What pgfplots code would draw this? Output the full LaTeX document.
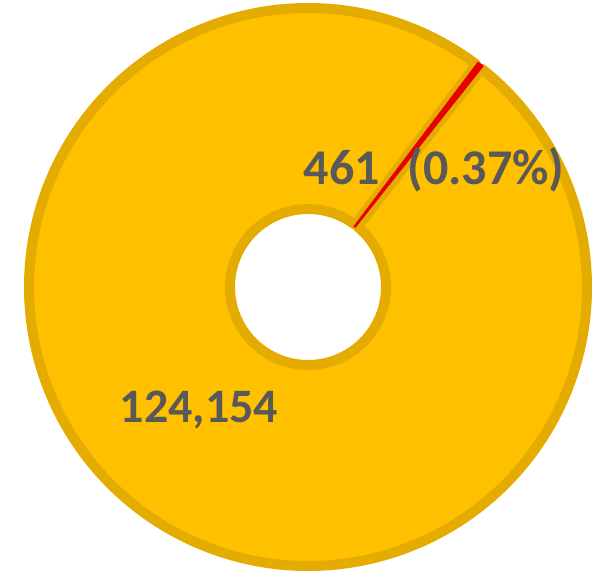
\documentclass[border=0pt]{standalone}
\usepackage{pgfplots}
\usepackage{pgfplotstable}
\usepackage{fontspec}
\setmainfont{Carlito}
\pgfplotsset{compat=1.18}
\definecolor{gold}{HTML}{FFC000}
\definecolor{golddark}{RGB}{228,172,0}
\definecolor{redslice}{RGB}{232,0,0}
\definecolor{lbl}{HTML}{595959}
\pgfplotstableread{
label value
A 461
B 124154
}\donut
\pgfplotstablegetelem{0}{value}\of\donut \let\va\pgfplotsretval
\pgfplotstablegetelem{1}{value}\of\donut \let\vb\pgfplotsretval
\pgfkeys{/pgf/fpu=true,/pgf/fpu/output format=fixed}
\pgfmathsetmacro{\spanA}{360*\va/(\va+\vb)}
\pgfkeys{/pgf/fpu=false}
\pgfmathsetmacro{\startA}{52.91}
\pgfmathsetmacro{\endA}{\startA-\spanA}
\pgfmathsetmacro{\endB}{\endA+360}
\begin{document}
\begin{tikzpicture}
\begin{axis}[
  width=605pt, height=572pt, scale only axis, hide axis,
  xmin=-308, xmax=297, ymin=-285, ymax=287,
  clip=false,
]
\addplot[draw=none] coordinates {(-308,-285) (297,287)};
% large slice
\addplot[fill=gold, draw=golddark, line width=10pt, line join=round,
  domain=0:2, samples=721]
  ({ifthenelse(x<=1, 279*cos(\startA+(\endB-\startA)*x), 78*cos(\endB-(\endB-\startA)*(x-1)))},
   {ifthenelse(x<=1, 279*sin(\startA+(\endB-\startA)*x), 78*sin(\endB-(\endB-\startA)*(x-1)))}) -- cycle;
% small slice
\addplot[fill=redslice, draw=redslice, line width=0.8pt, line join=round,
  domain=0:2, samples=41]
  ({ifthenelse(x<=1, 282*cos(\endA+(\startA-\endA)*x), 76*cos(\startA-(\startA-\endA)*(x-1)))},
   {ifthenelse(x<=1, 282*sin(\endA+(\startA-\endA)*x), 76*sin(\startA-(\startA-\endA)*(x-1)))}) -- cycle;
\node[font=\bfseries\fontsize{50}{54}\selectfont, text=lbl, inner sep=0pt] at (axis cs:34,119) {461};
\node[font=\bfseries\fontsize{50}{54}\selectfont, text=lbl, inner sep=0pt] at (axis cs:178,117) {(0.37\%)};
\node[font=\bfseries\fontsize{48}{52}\selectfont, text=lbl, inner sep=0pt] at (axis cs:-109,-123) {124,154};
\end{axis}
\end{tikzpicture}
\end{document}
